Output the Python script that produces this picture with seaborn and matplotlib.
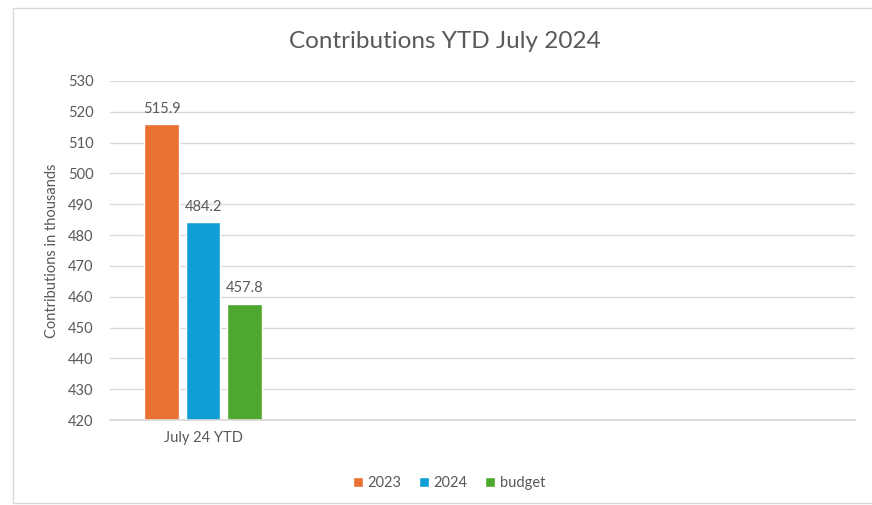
import matplotlib

matplotlib.use("Agg")
import matplotlib.pyplot as plt
from matplotlib.patches import Rectangle
import pandas as pd
import seaborn as sns

CATEGORIES = ["July 24 YTD", " ", "  ", "   "]
SERIES = ["2023", "2024", "budget"]
VALUES = [515.9, 484.2, 457.8]
COLORS = ["#E97132", "#0F9ED5", "#4EA72E"]
Y_TICKS = list(range(420, 531, 10))
TITLE = "Contributions YTD July 2024"
Y_LABEL = "Contributions in thousands"

TEXT = "#595959"
GRID = "#D9D9D9"

sns.set_theme(style="white")
plt.rcParams["font.family"] = ["Lato", "DejaVu Sans"]

df = pd.DataFrame({"category": CATEGORIES[0], "series": SERIES, "value": VALUES})

fig = plt.figure(figsize=(8.72, 5.05), dpi=100)
fig.patches.append(Rectangle((13 / 872, 0.004), 1.0, 1 - 8 / 505 - 0.004,
                             transform=fig.transFigure, fill=False,
                             edgecolor="#D9D9D9", linewidth=1.0))
ax = fig.add_axes([110 / 872, 1 - 420 / 505, 745 / 872, 339 / 505])

sns.barplot(data=df, x="category", y="value", hue="series", order=CATEGORIES,
            hue_order=SERIES, palette=COLORS, width=0.67, gap=0.17,
            saturation=1, legend=True, ax=ax)

ax.set_ylim(420, 530)
ax.set_xlim(-0.5, len(CATEGORIES) - 0.5)
ax.set_yticks(Y_TICKS)
ax.yaxis.grid(True, color=GRID, linewidth=1)
ax.set_axisbelow(True)
for side in ["top", "right", "left"]:
    ax.spines[side].set_visible(False)
ax.spines["bottom"].set_color(GRID)
ax.tick_params(axis="both", length=0, colors=TEXT, labelsize=10.5)
ax.tick_params(axis="x", pad=8)
ax.tick_params(axis="y", pad=12)
ax.set_xlabel("")
ax.set_ylabel(Y_LABEL, color=TEXT, fontsize=10.5, labelpad=6)

for container in ax.containers:
    ax.bar_label(container, fmt="%.1f", padding=6, color=TEXT, fontsize=10.5)

fig.text(445 / 872, 1 - 42 / 505, TITLE, ha="center", va="center",
         color=TEXT, fontsize=17.5)

handles, labels = ax.get_legend_handles_labels()
ax.get_legend().remove()
fig.legend(handles, labels, loc="center", bbox_to_anchor=(449 / 872, 1 - 483 / 505),
           ncol=3, frameon=False, fontsize=10.5, labelcolor=TEXT,
           handlelength=0.7, handleheight=0.7, handletextpad=0.3, columnspacing=1.2)

fig.savefig("out.png", dpi=100)
